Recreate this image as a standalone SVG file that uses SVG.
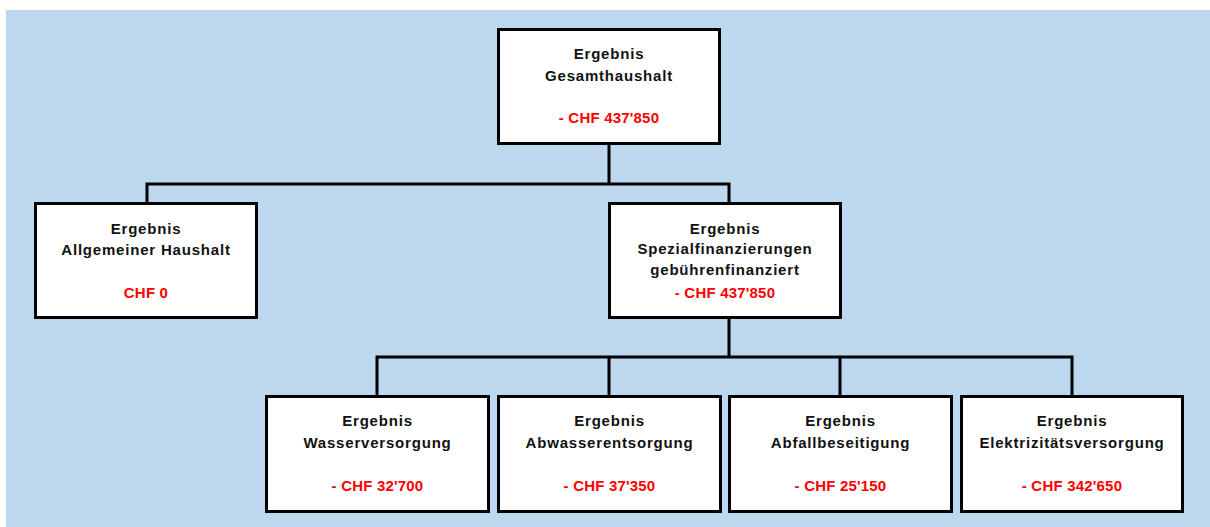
<svg xmlns="http://www.w3.org/2000/svg" width="1210" height="527" viewBox="0 0 1210 527">
<style>
.box{fill:#ffffff;stroke:#000000;stroke-width:3}
.con{fill:none;stroke:#000000;stroke-width:3}
text{font-family:"Liberation Sans",Arial,sans-serif;font-weight:bold;font-size:15px;text-anchor:middle}
.t{fill:#111111;letter-spacing:0.8px}
.v{fill:#ff0000;letter-spacing:0.2px}
</style>
<rect x="0" y="0" width="1210" height="527" fill="#ffffff"/>
<rect x="6" y="10" width="1204" height="517" fill="#bdd7ee"/>
<g id="connectors">
<path class="con" d="M609,144 V184 M147,203 V184 H729 V203"/>
<path class="con" d="M729,318 V357 M377,396 V357 H1072 V396 M609,357 V396 M840,357 V396"/>
</g>
<g id="n_gesamt">
<rect class="box" x="498.5" y="29.5" width="221" height="114"/>
<text class="t" x="609" y="59">Ergebnis</text>
<text class="t" x="609" y="81">Gesamthaushalt</text>
<text class="v" x="609" y="123">- CHF 437'850</text>
</g>
<g id="n_allgemein">
<rect class="box" x="35.5" y="203.5" width="221" height="114"/>
<text class="t" x="146" y="234">Ergebnis</text>
<text class="t" x="146" y="255">Allgemeiner Haushalt</text>
<text class="v" x="146" y="298">CHF 0</text>
</g>
<g id="n_spezial">
<rect class="box" x="609.5" y="203.5" width="231" height="114"/>
<text class="t" x="725" y="234">Ergebnis</text>
<text class="t" x="725" y="254">Spezialfinanzierungen</text>
<text class="t" x="725" y="275">gebührenfinanziert</text>
<text class="v" x="725" y="298">- CHF 437'850</text>
</g>
<g id="n_wasser">
<rect class="box" x="266.5" y="396.5" width="222" height="115"/>
<text class="t" x="377.5" y="426">Ergebnis</text>
<text class="t" x="377.5" y="448">Wasserversorgung</text>
<text class="v" x="377.5" y="491">- CHF 32'700</text>
</g>
<g id="n_abwasser">
<rect class="box" x="498.5" y="396.5" width="222" height="115"/>
<text class="t" x="609.5" y="426">Ergebnis</text>
<text class="t" x="609.5" y="448">Abwasserentsorgung</text>
<text class="v" x="609.5" y="491">- CHF 37'350</text>
</g>
<g id="n_abfall">
<rect class="box" x="729.5" y="396.5" width="222" height="115"/>
<text class="t" x="840.5" y="426">Ergebnis</text>
<text class="t" x="840.5" y="448">Abfallbeseitigung</text>
<text class="v" x="840.5" y="491">- CHF 25'150</text>
</g>
<g id="n_elektro">
<rect class="box" x="961.5" y="396.5" width="221" height="115"/>
<text class="t" x="1072" y="426">Ergebnis</text>
<text class="t" x="1072" y="448">Elektrizitätsversorgung</text>
<text class="v" x="1072" y="491">- CHF 342'650</text>
</g>
</svg>
